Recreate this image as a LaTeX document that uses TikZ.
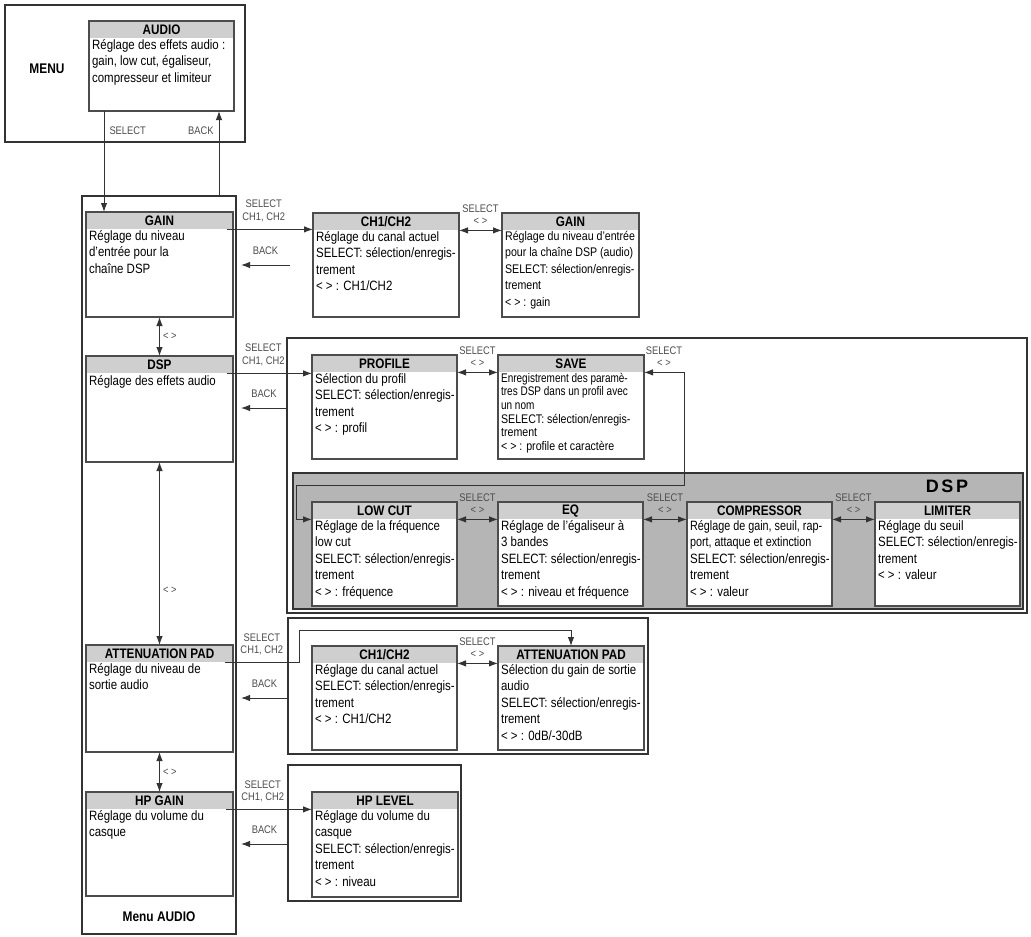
\documentclass[tikz,border=0pt]{standalone}
\usepackage{fontspec}
\setmainfont{Liberation Sans}[FakeStretch=0.85]
\newfontfamily\narrowfont{Liberation Sans}[FakeStretch=0.8]
\newfontfamily\dspbigfont{Liberation Sans}[LetterSpace=14]
\usetikzlibrary{arrows.meta,positioning}

\newcommand{\bodyfont}{\fontsize{13.5}{16.5}\selectfont}
\newcommand{\smallbody}{\fontsize{12.5}{16.5}\selectfont}
\newcommand{\savebody}{\fontsize{12.5}{13.6}\selectfont}
\newcommand{\hdrfont}{\fontsize{13.8}{14}\selectfont\bfseries}
\newcommand{\lblfont}{\fontsize{11}{12.5}\selectfont}

% one screen: frame, grey title bar, text
\newcommand{\panel}[7][]{%
  \node[panelbox, minimum width=#4, minimum height=#5] (#2) at (#3) {};
  \node[hdrbar, minimum width=#4-1.2pt] (#2h) at ([yshift=-0.6pt]#2.north) {#6};
  \node[bodytext, #1] (#2b) at (#2h.south west) {#7};
}

\begin{document}
\begin{tikzpicture}[>={Latex[length=9pt,width=6.5pt]}, x=1pt, y=-1pt,
    panelbox/.style={draw=black!70, line width=1.1pt, fill=white, anchor=north west, inner sep=0pt, outer sep=0pt},
    grpbox/.style={draw=black!80, line width=1.1pt, anchor=north west, inner sep=0pt, outer sep=0pt},
    corebox/.style={grpbox, fill=gray!58},
    hdrbar/.style={fill=gray!38, anchor=north, inner sep=0pt, minimum height=16.4pt, font=\hdrfont},
    bodytext/.style={anchor=north west, align=left, inner xsep=2.5pt, inner ysep=0.5pt, font=\bodyfont, execute at begin node=\strut},
    lbl/.style={font=\lblfont, text=black!70, align=center, inner sep=1pt},
    sel/.style={lbl},
    link/.style={draw=black!80, line width=1pt},
    every edge/.append style={link}]

    \useasboundingbox (0,0) rectangle (1031,937);

    % Frames {menu, menu audio, dsp, attenuation, hp}
    \node [grpbox, minimum width=240pt, minimum height=137pt] (menubox)   at (5,5)     {};
    \node [grpbox, minimum width=154pt, minimum height=738pt] (menuaudio) at (82,196)  {};
    \node [grpbox, minimum width=740pt, minimum height=275pt] (dspgrp)    at (287,338) {};
    \node [corebox, minimum width=730pt, minimum height=136pt] (dspcore)  at (293,473) {};
    \node [grpbox, minimum width=360pt, minimum height=136pt] (attgrp)    at (288,618) {};
    \node [grpbox, minimum width=173pt, minimum height=136pt] (hpgrp)     at (288,765) {};
    \coordinate (colR) at ([xshift=5pt]menuaudio.east);

    \node [font=\fontsize{14}{15}\selectfont\bfseries] (menulbl) at (47,69) {MENU};
    \node [font=\fontsize{14}{15}\selectfont\bfseries] (menuaudiolbl) at ([yshift=17pt]menuaudio.south) {Menu AUDIO};
    \node [font=\dspbigfont\fontsize{18}{19}\selectfont\bfseries] (dsplbl) at (947,486) {DSP};

    % Screens, left column
    \panel{audio}{89,21}{145pt}{90pt}{AUDIO}{Réglage des effets audio :\\gain, low cut, égaliseur,\\compresseur et limiteur}
    \panel{gain}{86,212}{147pt}{105pt}{GAIN}{Réglage du niveau\\d'entrée pour la\\chaîne DSP}
    \panel{dsp}{86,356}{147pt}{106pt}{DSP}{Réglage des effets audio}
    \panel{att}{86,645}{147pt}{107pt}{ATTENUATION PAD}{Réglage du niveau de\\sortie audio}
    \panel{hp}{86,792}{147pt}{104pt}{HP GAIN}{Réglage du volume du\\casque}

    % Screens, gain
    \panel{chA}{313,213}{146pt}{104pt}{CH1/CH2}{Réglage du canal actuel\\SELECT: sélection/enregis-\\trement\\< > : CH1/CH2}
    \panel[font=\smallbody]{gainB}{502,213}{137pt}{104pt}{GAIN}{Réglage du niveau d'entrée\\pour la chaîne DSP (audio)\\SELECT: sélection/enregis-\\trement\\< > : gain}

    % Screens, dsp
    \panel{profile}{312,355}{145pt}{104pt}{PROFILE}{Sélection du profil\\SELECT: sélection/enregis-\\trement\\< > : profil}
    \panel[font=\savebody]{save}{498,355}{146pt}{104pt}{SAVE}{{\narrowfont Enregistrement des paramè-}\\{\narrowfont tres DSP dans un profil avec}\\{\narrowfont un nom}\\SELECT: sélection/enregis-\\trement\\< > : profile et caractère}
    \panel{lowcut}{312,502}{145pt}{104pt}{LOW CUT}{Réglage de la fréquence\\low cut\\SELECT: sélection/enregis-\\trement\\< > : fréquence}
    \panel{eq}{498,502}{145pt}{104pt}{EQ}{Réglage de l'égaliseur à\\3 bandes\\SELECT: sélection/enregis-\\trement\\< > : niveau et fréquence}
    \panel{comp}{687,502}{145pt}{104pt}{COMPRESSOR}{{\narrowfont Réglage de gain, seuil, rap-}\\{\narrowfont port, attaque et extinction}\\SELECT: sélection/enregis-\\trement\\< > : valeur}
    \panel{limiter}{875,502}{145pt}{104pt}{LIMITER}{Réglage du seuil\\SELECT: sélection/enregis-\\trement\\< > : valeur}

    % Screens, attenuation pad and hp
    \panel{chB}{312,646}{145pt}{104pt}{CH1/CH2}{Réglage du canal actuel\\SELECT: sélection/enregis-\\trement\\< > : CH1/CH2}
    \panel{attpad}{498,646}{146pt}{104pt}{ATTENUATION PAD}{Sélection du gain de sortie\\audio\\SELECT: sélection/enregis-\\trement\\< > : 0dB/-30dB}
    \panel{hplevel}{312,792}{146pt}{105pt}{HP LEVEL}{Réglage du volume du\\casque\\SELECT: sélection/enregis-\\trement\\< > : niveau}

    % Paths, menu
    \path [->] ([xshift=15pt]audio.south west) edge node[lbl, right=4pt, pos=0.2] {SELECT} ([xshift=15pt]audio.south west |- gain.north);
    \path [->] ([xshift=-15pt]audio.south east |- menuaudio.north) edge node[lbl, left=4pt, pos=0.77] {BACK} ([xshift=-15pt]audio.south east);
    \path [<->] (gain.south) edge node[lbl, right=2pt] {< >} (dsp.north);
    \path [<->] (dsp.south)  edge node[lbl, right=2pt, pos=0.7] {< >} (att.north);
    \path [<->] (att.south)  edge node[lbl, right=2pt] {< >} (hp.north);

    % Paths, gain
    \coordinate (gainback) at (290,265);
    \path [->] ([xshift=-6pt]gainh.south east) edge node[lbl, above=6pt, pos=0.43] {SELECT\\CH1, CH2} (gainh.south east -| chA.west);
    \path [->] (gainback) edge node[lbl, above=9pt] {BACK} (gainback -| colR);
    \path [<->] (chA.east |- chAh.south) edge node[sel, above=4pt] {SELECT\\< >} (gainB.west |- chAh.south);

    % Paths, dsp
    \coordinate (loopT) at ([xshift=40pt]save.east |- saveh.south);
    \coordinate (loopL) at ([xshift=3pt,yshift=-12pt]dspcore.north west);
    \path [->] ([xshift=-6pt]dsph.south east) edge node[lbl, above=6pt, pos=0.43] {SELECT\\CH1, CH2} (dsph.south east -| profile.west);
    \path [->] ([yshift=-52pt]dsp.north -| dspgrp.west) edge node[lbl, above=9pt] {BACK} ([yshift=-52pt]dsp.north -| colR);
    \path [<->] (profile.east |- profileh.south) edge node[sel, above=4pt] {SELECT\\< >} (save.west |- profileh.south);
    \draw [<->, link] (save.east |- saveh.south) -- node[sel, above=4pt] {SELECT\\< >} (loopT) |- (loopL) |- (lowcut.west |- lowcuth.south);
    \path [<->] (lowcut.east |- lowcuth.south) edge node[sel, above=4pt] {SELECT\\< >} (eq.west |- lowcuth.south);
    \path [<->] (eq.east |- eqh.south) edge node[sel, above=4pt] {SELECT\\< >} (comp.west |- eqh.south);
    \path [<->] (comp.east |- comph.south) edge node[sel, above=4pt] {SELECT\\< >} (limiter.west |- comph.south);

    % Paths, attenuation pad
    \coordinate (attup) at ([xshift=11pt,yshift=-12pt]attgrp.north west);
    \draw [->, link] ([xshift=-8pt]atth.south east) -| node[lbl, above=6pt, pos=0.25] {SELECT\\CH1, CH2} (attup) -| (attpad.north);
    \path [->] ([yshift=-53pt]att.north -| attgrp.west) edge node[lbl, above=9pt] {BACK} ([yshift=-53pt]att.north -| colR);
    \path [<->] (chB.east |- chBh.south) edge node[sel, above=4pt] {SELECT\\< >} (attpad.west |- chBh.south);

    % Paths, hp
    \path [->] ([xshift=-7pt]hph.south east) edge node[lbl, above=6pt, pos=0.43] {SELECT\\CH1, CH2} (hph.south east -| hplevel.west);
    \path [->] ([yshift=-52pt]hp.north -| hpgrp.west) edge node[lbl, above=9pt] {BACK} ([yshift=-52pt]hp.north -| colR);

\end{tikzpicture}
\end{document}
